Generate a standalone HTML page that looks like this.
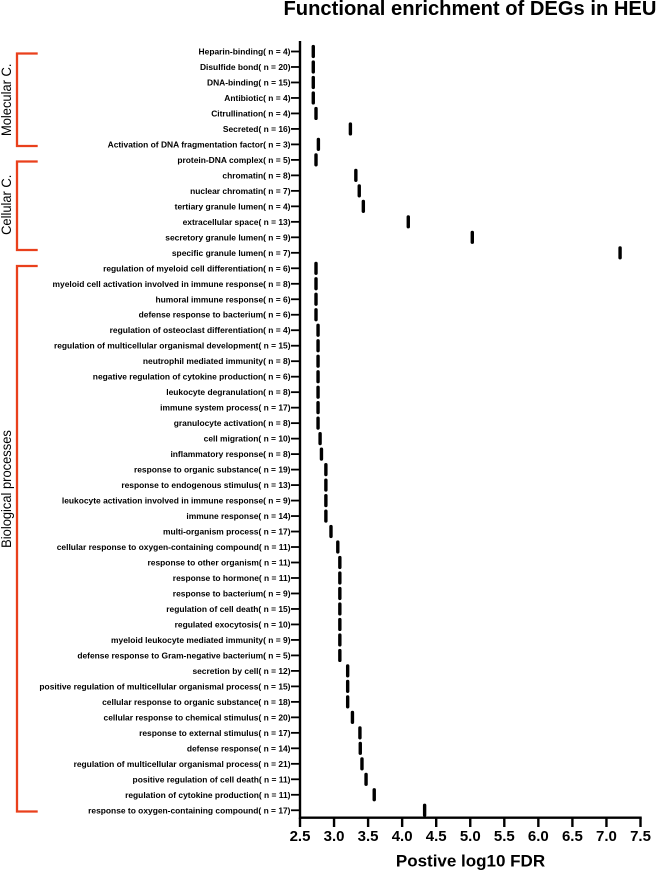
<!DOCTYPE html>
<html lang="en">
<head>
<meta charset="utf-8">
<title>Functional enrichment of DEGs in HEU</title>
<style>
html,body{margin:0;padding:0;background:#fff;width:656px;height:871px;overflow:hidden}
svg{display:block}
text{font-family:"Liberation Sans",sans-serif;fill:#000}
</style>
</head>
<body>
<svg id="chart" width="656" height="871" viewBox="0 0 656 871" xmlns="http://www.w3.org/2000/svg">
<text x="283.5" y="15" font-size="20.17" font-weight="700">Functional enrichment of DEGs in HEU</text>
<text x="470.5" y="866.5" text-anchor="middle" font-size="17" font-weight="700">Postive log10 FDR</text>
<g fill="none" stroke="#e9401c" stroke-width="2.3">
<path d="M37.7 53.5H17V146H37.7"/>
<path d="M37.7 161.5H17V250H37.7"/>
<path d="M37.7 266H17V811.5H37.7"/>
</g>
<text transform="translate(11,99.8) rotate(-90) scale(0.95,1)" text-anchor="middle" font-size="13.6">Molecular C.</text>
<text transform="translate(11,204.8) rotate(-90) scale(0.95,1)" text-anchor="middle" font-size="13.6">Cellular C.</text>
<text transform="translate(11,489) rotate(-90) scale(0.95,1)" text-anchor="middle" font-size="13.6">Biological processes</text>
<g id="axes"></g>
<g id="marks"></g>
</svg>
<script>
const categories = [
"Heparin-binding( n = 4)","Disulfide bond( n = 20)","DNA-binding( n = 15)","Antibiotic( n = 4)","Citrullination( n = 4)","Secreted( n = 16)","Activation of DNA fragmentation factor( n = 3)","protein-DNA complex( n = 5)",
"chromatin( n = 8)","nuclear chromatin( n = 7)","tertiary granule lumen( n = 4)","extracellular space( n = 13)","secretory granule lumen( n = 9)","specific granule lumen( n = 7)",
"regulation of myeloid cell differentiation( n = 6)","myeloid cell activation involved in immune response( n = 8)","humoral immune response( n = 6)","defense response to bacterium( n = 6)","regulation of osteoclast differentiation( n = 4)","regulation of multicellular organismal development( n = 15)","neutrophil mediated immunity( n = 8)","negative regulation of cytokine production( n = 6)","leukocyte degranulation( n = 8)","immune system process( n = 17)","granulocyte activation( n = 8)","cell migration( n = 10)","inflammatory response( n = 8)","response to organic substance( n = 19)","response to endogenous stimulus( n = 13)","leukocyte activation involved in immune response( n = 9)","immune response( n = 14)","multi-organism process( n = 17)","cellular response to oxygen-containing compound( n = 11)","response to other organism( n = 11)","response to hormone( n = 11)","response to bacterium( n = 9)","regulation of cell death( n = 15)","regulated exocytosis( n = 10)","myeloid leukocyte mediated immunity( n = 9)","defense response to Gram-negative bacterium( n = 5)","secretion by cell( n = 12)","positive regulation of multicellular organismal process( n = 15)","cellular response to organic substance( n = 18)","cellular response to chemical stimulus( n = 20)","response to external stimulus( n = 17)","defense response( n = 14)","regulation of multicellular organismal process( n = 21)","positive regulation of cell death( n = 11)","regulation of cytokine production( n = 11)","response to oxygen-containing compound( n = 17)"
];
const fdrValues = [
2.695,2.695,2.695,2.695,2.735,3.24,2.77,2.735,
3.32,3.37,3.43,4.09,5.03,7.2,
2.735,2.735,2.735,2.735,2.765,2.765,2.765,2.765,2.765,2.765,2.765,2.795,2.815,2.88,2.88,2.88,2.88,2.955,3.055,3.085,3.085,3.085,3.085,3.085,3.085,3.085,3.2,3.2,3.2,3.27,3.38,3.385,3.41,3.47,3.59,4.33
];
const xTicks = ["2.5","3.0","3.5","4.0","4.5","5.0","5.5","6.0","6.5","7.0","7.5"];

const NS = "http://www.w3.org/2000/svg";
const axes = document.getElementById("axes");
const marks = document.getElementById("marks");
function xScale(v){ return 300 + (v - 2.5) * 68.1; }
function yScale(i){ return 51.5 + i * 15.485; }
function make(tag, attrs, parent){
  const el = document.createElementNS(NS, tag);
  for (const k in attrs) el.setAttribute(k, attrs[k]);
  parent.appendChild(el);
  return el;
}

const yAxis = make("line", {x1:300, x2:300, y1:41, y2:819, stroke:"#000", "stroke-width":2.4}, axes);


const xAxis = make("line", {x1:299, x2:641.7, y1:817.7, y2:817.7, stroke:"#000", "stroke-width":2.4}, axes);



xTicks.forEach(function(t){
  const x = xScale(parseFloat(t));
  const tick = make("line", {x1:x, x2:x, y1:817.7, y2:827, stroke:"#000", "stroke-width":2.4}, axes);
  
  
  const lab = make("text", {x:x, y:841, "text-anchor":"middle", "font-size":15, "font-weight":700}, axes);
  lab.textContent = t;
  
  
});

categories.forEach(function(c, i){
  const y = yScale(i);
  const tick = make("line", {x1:291, x2:300, y1:y, y2:y, stroke:"#000", "stroke-width":1.8}, axes);
  
  
  const lab = make("text", {x:290.5, y:y + 3, "text-anchor":"end", "font-size":8.44, "font-weight":700, fill:"#111"}, axes);
  lab.textContent = c;
  
  
  const m = make("rect", {x:xScale(fdrValues[i]) - 1.7, y:y - 6.6, width:3.4, height:13.2, rx:1.7, fill:"#000"}, marks);
  
  
});
</script>
</body>
</html>
